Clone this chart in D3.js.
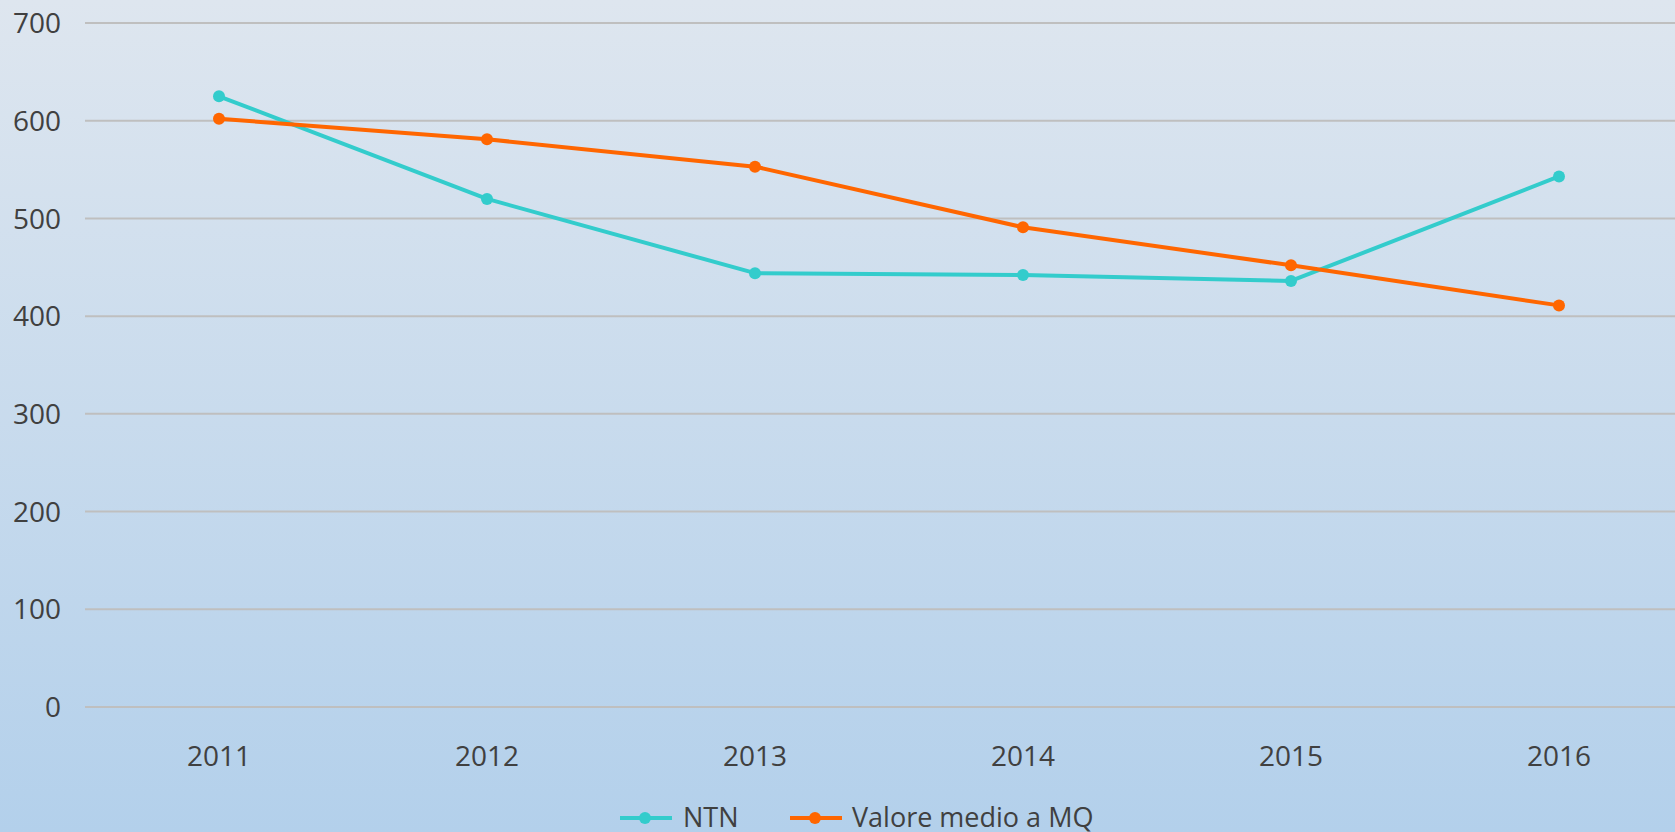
<!DOCTYPE html>
<html><head><meta charset="utf-8">
<script src="https://cdn.jsdelivr.net/npm/d3@7"></script>
<style>html,body{margin:0;padding:0;overflow:hidden;}svg{display:block;}</style>
</head><body>
<script>
const years = ["2011","2012","2013","2014","2015","2016"];
const ntn = [625, 520, 444, 442, 436, 543];
const valoreMedio = [602, 581, 553, 491, 452, 411];
const yTicks = [0,100,200,300,400,500,600,700];
const seriesNames = ["NTN", "Valore medio a MQ"];
const seriesColors = ["#33CCCC", "#FF6600"];

const W = 1675, H = 832;
const svg = d3.select("body").append("svg").attr("width", W).attr("height", H);
const defs = svg.append("defs");
const grad = defs.append("linearGradient").attr("id","bg").attr("x1",0).attr("y1",0).attr("x2",0).attr("y2",1);
grad.append("stop").attr("offset","0%").attr("stop-color","#dee6ef");
grad.append("stop").attr("offset","100%").attr("stop-color","#b3d0eb");
svg.append("rect").attr("width",W).attr("height",H).attr("fill","url(#bg)");

const x = d3.scaleBand().domain(years).range([85, 85 + 6*268]);
const y = d3.scaleLinear().domain([0,700]).range([707, 23]);
const font = "'Open Sans', sans-serif";

// gridlines
svg.append("g").selectAll("line").data(yTicks).join("line")
  .attr("x1", 85).attr("x2", W).attr("y1", d=>y(d)).attr("y2", d=>y(d))
  .attr("stroke","#bfbfbf").attr("stroke-width",2);

// y labels
svg.append("g").selectAll("text").data(yTicks).join("text")
  .attr("x", 61).attr("y", d=>y(d)).attr("dy","0.36em").attr("text-anchor","end")
  .attr("font-family", font).attr("font-size", 28).attr("fill","#404040").text(d=>d);

// x labels
svg.append("g").selectAll("text").data(years).join("text")
  .attr("x", d=>x(d)+x.bandwidth()/2).attr("y", 766).attr("text-anchor","middle")
  .attr("font-family", font).attr("font-size", 28).attr("fill","#404040").text(d=>d);

const series = [ntn, valoreMedio];
const line = d3.line().x((d,i)=>x(years[i])+x.bandwidth()/2).y(d=>y(d));
series.forEach((s, k) => {
  svg.append("path").datum(s).attr("d", line).attr("fill","none")
    .attr("stroke", seriesColors[k]).attr("stroke-width", 4).attr("stroke-linejoin","round");
  svg.append("g").selectAll("circle").data(s).join("circle")
    .attr("cx", (d,i)=>x(years[i])+x.bandwidth()/2).attr("cy", d=>y(d)).attr("r", 6)
    .attr("fill", seriesColors[k]);
});

// legend
const legendItems = [{x0:620, tx:683}, {x0:790, tx:852}];
legendItems.forEach((it,k)=>{
  const g = svg.append("g");
  g.append("line").attr("x1", it.x0).attr("x2", it.x0+52).attr("y1", 818).attr("y2", 818)
    .attr("stroke", seriesColors[k]).attr("stroke-width", 4);
  g.append("circle").attr("cx", it.x0+25).attr("cy", 818).attr("r", 6).attr("fill", seriesColors[k]);
  g.append("text").attr("x", it.tx).attr("y", 827).attr("font-family", font).attr("font-size", 27)
    .attr("fill","#404040").text(seriesNames[k]);
});
</script>
</body></html>
